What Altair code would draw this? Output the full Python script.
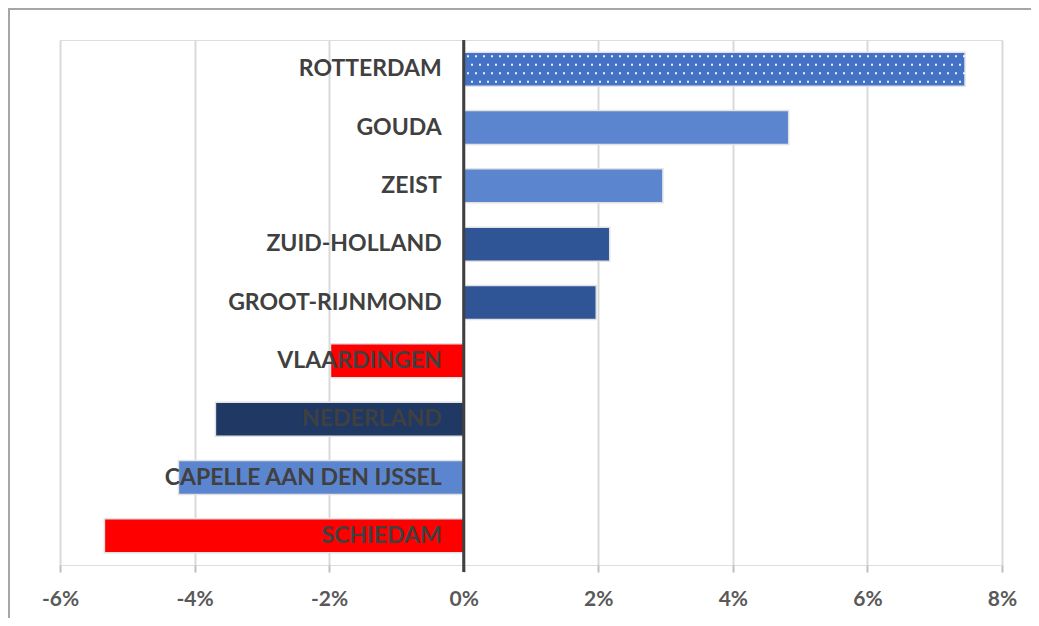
import altair as alt
import pandas as pd

regions = ["ROTTERDAM", "GOUDA", "ZEIST", "ZUID-HOLLAND", "GROOT-RIJNMOND",
           "VLAARDINGEN", "NEDERLAND", "CAPELLE AAN DEN IJSSEL", "SCHIEDAM"]
values = [7.45, 4.83, 2.96, 2.17, 1.97, -1.98, -3.69, -4.24, -5.34]
bar_colors = ["#4472C4", "#5B86CF", "#5B86CF", "#2F5597", "#2F5597",
              "#FF0000", "#1F3864", "#5B86CF", "#FF0000"]
tick_values = [-6, -4, -2, 0, 2, 4, 6, 8]

df = pd.DataFrame({"regio": regions, "waarde": values})
W, H = 942, 525

x_scale = alt.Scale(domain=[-6, 8], nice=False, zero=False)
y_enc = alt.Y("regio:N", sort=regions, axis=None,
              scale=alt.Scale(paddingInner=0.417, paddingOuter=0.2085))

base = alt.Chart(df)

bars = base.mark_bar(size=34, stroke="#E2E2E2", strokeWidth=1.5).encode(
    x=alt.X("waarde:Q", scale=x_scale,
            axis=alt.Axis(values=tick_values, labelExpr="datum.value + '%'",
                          grid=True, gridColor="#D9D9D9", gridWidth=2,
                          domain=False, ticks=True, tickColor="#BFBFBF", tickWidth=2,
                          tickSize=7, labelFont="Lato", labelFontWeight="bold",
                          labelFontSize=21, labelColor="#595959", labelPadding=16,
                          labelFlush=False, labelOverlap=False, title=None)),
    x2=alt.datum(0),
    y=y_enc,
    color=alt.Color("regio:N", scale=alt.Scale(domain=regions, range=bar_colors), legend=None),
)

rot = base.transform_filter(alt.datum.regio == "ROTTERDAM")
dots = []
for off, doff in [(-13, 0), (-4.5, 4), (4, 0), (12.5, 4)]:
    dots.append(rot.mark_rule(color="white", strokeWidth=2, strokeDash=[2, 6],
                              strokeDashOffset=doff, strokeCap="butt",
                              yOffset=off, opacity=0.9).encode(
        x=alt.X("waarde:Q", scale=x_scale), x2=alt.datum(0), y=y_enc))

zero = alt.Chart(pd.DataFrame({"z": [0]})).mark_rule(color="#404040", strokeWidth=3).encode(
    x=alt.X("z:Q", scale=x_scale), y=alt.value(0), y2=alt.value(H + 7))

labels = base.mark_text(align="right", baseline="middle", dx=-22, font="Lato",
                        fontWeight="bold", fontSize=23, color="#404040").encode(
    x=alt.datum(0), y=y_enc, text="regio:N")

frame = alt.Chart(pd.DataFrame({"f": [1]})).mark_rect(
    fill=None, stroke="#A6A6A6", strokeWidth=2).encode(
    x=alt.value(-51), x2=alt.value(W + 60), y=alt.value(-31), y2=alt.value(H + 120))

chart = alt.layer(frame, bars, *dots, zero, labels).properties(
    width=W, height=H, padding={"left": 52, "top": 32, "right": 29, "bottom": 53},
    autosize=alt.AutoSizeParams(type="none"),
).configure_view(stroke=None).configure(background="white")

chart.save("out.html", embed_options={"renderer": "svg", "actions": False})
